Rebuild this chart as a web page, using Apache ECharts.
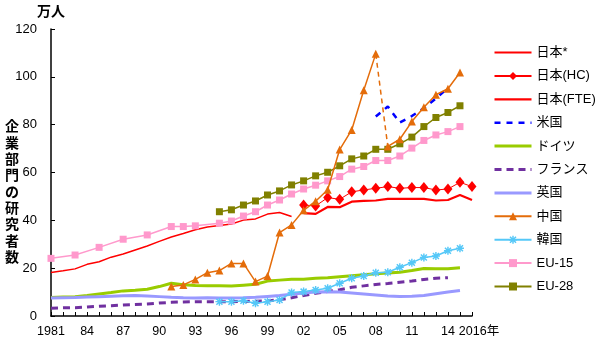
<!DOCTYPE html>
<html><head><meta charset="utf-8">
<script src="https://cdn.jsdelivr.net/npm/echarts@6/dist/echarts.min.js"></script>
<style>html,body{margin:0;padding:0;background:#fff}#c{width:600px;height:351px}</style>
</head><body><div id="c"></div>
<script>
// ---- data ----
const xLabelYears = [1981,1984,1987,1990,1993,1996,1999,2002,2005,2008,2011,2014,2016];
const xLabelTexts = ['1981','84','87','90','93','96','99','02','05','08','11','14','2016年'];
const yTicks = [0,20,40,60,80,100,120];

const jpOldStart = 1981;
const jpOld = [18.2,18.9,19.7,21.6,22.7,24.6,25.9,27.6,29.3,31.2,33.0,34.5,36.1,37.2,37.8,38.5,40.1,40.6,42.6,43.3,41.6];
const jpHCStart = 2002;
const jpHC = [46.4,46.0,49.5,48.8,51.9,52.7,53.4,54.1,53.4,53.7,53.7,52.7,53.1,55.9,54.1];
const jpFTEStart = 2002;
const jpFTE = [43.0,42.7,45.6,45.5,47.8,48.1,48.3,49.0,49.0,49.0,49.0,48.3,48.5,50.6,48.5];
const usStart = 2008;
const us = [83.4,87.6,80.9,83.6,86.9,91.0,95.3];
const deStart = 1981;
const de = [7.7,7.9,8.1,8.6,9.2,9.8,10.5,10.8,11.2,12.3,13.7,13.1,12.8,12.7,12.6,12.5,12.9,13.3,14.6,15.0,15.4,15.4,15.8,16.0,16.4,16.8,17.2,17.7,18.0,18.3,19.0,19.9,19.8,19.8,20.2];
const frStart = 1981;
const fr = [3.2,3.4,3.5,3.8,4.1,4.3,4.6,4.8,5.0,5.4,5.7,5.9,6.0,6.0,6.0,6.0,6.1,6.2,6.3,6.8,7.6,8.6,9.5,10.2,11.0,12.0,12.6,13.2,13.6,14.1,14.6,15.3,15.8,16.0];
const ukStart = 1981;
const uk = [7.5,7.6,7.7,7.9,8.1,8.3,8.5,8.6,8.4,8.1,7.8,7.6,7.5,7.6,7.5,7.5,7.6,7.8,8.2,8.6,9.1,9.6,10.0,10.1,10.0,9.6,9.2,8.8,8.4,8.2,8.3,8.6,9.3,10.0,10.7];
const cnStart = 1991;
const cn = [12.3,13.0,15.3,18.1,19.0,22.0,22.0,14.4,16.7,34.9,38.1,44.2,48.0,52.8,69.6,77.8,94.4,109.6,70.9,73.9,81.3,87.3,92.5,95.0,101.8];
const cnBreakYear = 2008; // dashed segment 2008 -> 2009
const krStart = 1995;
const kr = [6.0,6.0,6.4,5.3,6.0,6.7,9.8,10.2,10.9,11.6,13.7,15.8,16.7,18.1,18.3,20.4,22.3,24.5,25.1,27.3,28.3];
const eu15Years = [1981,1983,1985,1987,1989,1991,1992,1993,1995,1996,1997,1998,1999,2000,2001,2002,2003,2004,2005,2006,2007,2008,2009,2010,2011,2012,2013,2014,2015];
const eu15 = [24.1,25.5,28.7,32.1,33.9,37.4,37.4,37.7,38.8,39.7,41.8,43.6,46.4,48.5,51.0,53.1,54.7,56.5,58.3,61.4,62.5,65.0,65.0,66.9,70.2,73.4,75.7,77.1,79.2];
const eu28Start = 1995;
const eu28 = [43.6,44.4,46.4,48.1,50.6,52.3,54.8,56.5,58.6,60.1,62.8,65.7,66.9,69.7,69.7,72.0,74.8,79.2,83.0,85.1,87.9];

const legendNames = ['日本*','日本(HC)','日本(FTE)','米国','ドイツ','フランス','英国','中国','韓国','EU-15','EU-28'];
const lineOnlyNames = ['日本*','日本(FTE)','米国','ドイツ','フランス','英国'];

// ---- build ----
const pairs = (start, vals) => vals.map((v, i) => [start + i, v]);
const cnAll = pairs(cnStart, cn);
const cnA = cnAll.filter(p => p[0] <= cnBreakYear);
const cnB = cnAll.filter(p => p[0] > cnBreakYear);
const cnD = cnAll.filter(p => p[0] === cnBreakYear || p[0] === cnBreakYear + 1);
const eu15Data = eu15Years.map((y, i) => [y, eu15[i]]);

const asterisk = 'path://M4.1,0L5.9,0L5.9,10L4.1,10Z M0,4.1L10,4.1L10,5.9L0,5.9Z M0.6,1.9L1.9,0.6L9.4,8.1L8.1,9.4Z M8.1,0.6L9.4,1.9L1.9,9.4L0.6,8.1Z';

const font = '"Liberation Sans", "Noto Sans CJK JP", sans-serif';
const C = {
  red: '#FF0000', blue: '#0000FF', green: '#99CC00', purple: '#7030A0',
  lav: '#9999FF', orange: '#E46C0A', sky: '#55C8F8', pink: '#FF99CC', olive: '#808000'
};

function lineS(name, data, color, width, extra) {
  return Object.assign({
    type: 'line', name, data, symbol: 'none', color,
    lineStyle: { color, width }, itemStyle: { color },
    emphasis: { disabled: true }, animation: false, z: 2
  }, extra || {});
}

const series = [
  lineS('日本*', pairs(jpOldStart, jpOld), C.red, 1.5),
  lineS('日本(HC)', pairs(jpHCStart, jpHC), C.red, 1, { symbol: 'diamond', symbolSize: [9, 11], showSymbol: true }),
  lineS('日本(FTE)', pairs(jpFTEStart, jpFTE), C.red, 2.2),
  lineS('米国', pairs(usStart, us), C.blue, 2.5, { lineStyle: { color: C.blue, width: 2.5, type: [6, 6] } }),
  lineS('ドイツ', pairs(deStart, de), C.green, 3),
  lineS('フランス', pairs(frStart, fr), C.purple, 3, { lineStyle: { color: C.purple, width: 3, type: [7, 5] } }),
  lineS('英国', pairs(ukStart, uk), C.lav, 3),
  lineS('中国', cnA, C.orange, 1.5, { symbol: 'triangle', symbolSize: 8, z: 4 }),
  lineS('中国', cnD, C.orange, 1.5, { lineStyle: { color: C.orange, width: 1.5, type: [5, 4] }, z: 4 }),
  lineS('中国', cnB, C.orange, 1.5, { symbol: 'triangle', symbolSize: 8, z: 4 }),
  lineS('韓国', pairs(krStart, kr), C.sky, 1.5, { symbol: asterisk, symbolSize: 8 }),
  lineS('EU-15', eu15Data, C.pink, 1.5, { symbol: 'rect', symbolSize: 7, connectNulls: true }),
  lineS('EU-28', pairs(eu28Start, eu28), C.olive, 1.5, { symbol: 'rect', symbolSize: 7 })
];

const legendLineWidth = { '米国': 2.5, 'ドイツ': 3, 'フランス': 3, '英国': 3, '日本(FTE)': 2.2 };
const legendData = legendNames.map(n => {
  const item = { name: n };
  if (lineOnlyNames.indexOf(n) >= 0) item.itemStyle = { color: 'rgba(0,0,0,0)', borderColor: 'rgba(0,0,0,0)', borderWidth: 0, opacity: 0 };
  if (legendLineWidth[n]) item.lineStyle = { width: legendLineWidth[n] };
  return item;
});

const chart = echarts.init(document.getElementById('c'), null, { renderer: 'canvas' });
chart.setOption({
  backgroundColor: '#fff',
  animation: false,
  textStyle: { fontFamily: font },
  grid: { left: 51, right: 128, top: 29, bottom: 35, containLabel: false },
  legend: {
    orient: 'vertical', left: 493, top: 46, padding: 0,
    itemWidth: 37, itemHeight: 10, itemGap: 10.4,
    data: legendData,
    textStyle: { fontSize: 13, color: '#000', fontFamily: font },
    selectedMode: false
  },
  xAxis: {
    type: 'value', min: 1981, max: 2016, interval: 1,
    axisLine: { lineStyle: { color: '#000', width: 1.5 } },
    axisTick: { inside: true, length: 4, lineStyle: { color: '#000' } },
    splitLine: { show: false },
    axisLabel: {
      color: '#000', fontSize: 12.5, margin: 9, fontFamily: font,
      formatter: v => { const i = xLabelYears.indexOf(v); if (i < 0) return ''; return v === 2016 ? '{e|' + xLabelTexts[i] + '}' : xLabelTexts[i]; },
      rich: { e: { fontSize: 12.5, color: '#000', fontFamily: font, padding: [0, 0, 0, 14] } }
    }
  },
  yAxis: {
    type: 'value', min: yTicks[0], max: yTicks[yTicks.length - 1], interval: 20,
    name: '万人', nameLocation: 'end', nameGap: 10,
    nameTextStyle: { color: '#000', fontSize: 14, fontWeight: 'bold', fontFamily: font, align: 'center' },
    axisLine: { show: true, lineStyle: { color: '#000', width: 1.5 } },
    axisTick: { show: true, inside: true, length: 4, lineStyle: { color: '#000' } },
    splitLine: { show: false },
    axisLabel: { color: '#000', fontSize: 13, margin: 14, fontFamily: font }
  },
  graphic: [{
    type: 'text', left: 5, top: 118,
    style: { text: '企\n業\n部\n門\nの\n研\n究\n者\n数', font: 'bold 14px "Noto Sans CJK JP", sans-serif', fill: '#000', lineHeight: 16.3 }
  }],
  series
});
</script>
</body></html>
